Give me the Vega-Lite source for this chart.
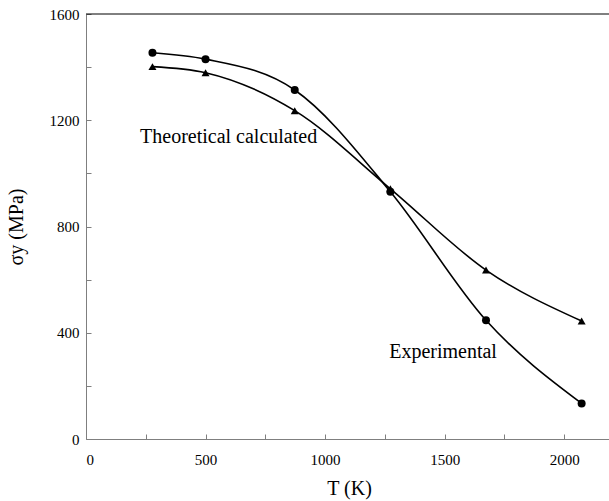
{
  "$schema": "https://vega.github.io/schema/vega-lite/v6.json",
  "width": 526,
  "height": 425,
  "autosize": {"type": "none"},
  "padding": {"left": 86, "top": 14, "right": 0, "bottom": 62},
  "background": "white",
  "config": {
    "view": {"stroke": null},
    "font": "Liberation Serif",
    "axis": {
      "labelFont": "Liberation Serif",
      "titleFont": "Liberation Serif",
      "labelFontSize": 15,
      "titleFontSize": 20,
      "titleFontWeight": "normal",
      "labelColor": "black",
      "titleColor": "black",
      "domainColor": "#7f7f7f",
      "tickColor": "#7f7f7f",
      "grid": false
    }
  },
  "datasets": {
    "pts": [
      {"T": 278, "sigma": 1454, "s": "Experimental"},
      {"T": 500, "sigma": 1430, "s": "Experimental"},
      {"T": 873, "sigma": 1314, "s": "Experimental"},
      {"T": 1273, "sigma": 931, "s": "Experimental"},
      {"T": 1673, "sigma": 447, "s": "Experimental"},
      {"T": 2073, "sigma": 134, "s": "Experimental"},
      {"T": 278, "sigma": 1402, "s": "Theoretical"},
      {"T": 500, "sigma": 1379, "s": "Theoretical"},
      {"T": 873, "sigma": 1236, "s": "Theoretical"},
      {"T": 1273, "sigma": 942, "s": "Theoretical"},
      {"T": 1673, "sigma": 636, "s": "Theoretical"},
      {"T": 2073, "sigma": 444, "s": "Theoretical"}
    ],
    "labels": [
      {"T": 226, "sigma": 1137, "text": "Theoretical calculated"},
      {"T": 1268, "sigma": 329, "text": "Experimental"}
    ]
  },
  "layer": [
    {
      "data": {"name": "pts"},
      "mark": {"type": "line", "interpolate": "monotone", "strokeWidth": 1.6, "color": "black"},
      "encoding": {
        "x": {
          "field": "T", "type": "quantitative",
          "scale": {"domain": [0, 2200], "nice": false},
          "axis": {
            "title": "T (K)",
            "format": "d",
            "values": [0, 250, 500, 750, 1000, 1250, 1500, 1750, 2000],
            "labelExpr": "datum.value % 500 == 0 ? datum.label : ''",
            "tickSize": -5,
            "labelPadding": 18,
            "titlePadding": 11
          }
        },
        "y": {
          "field": "sigma", "type": "quantitative",
          "scale": {"domain": [0, 1600], "nice": false},
          "axis": {
            "title": "σy (MPa)",
            "format": "d",
            "values": [0, 200, 400, 600, 800, 1000, 1200, 1400, 1600],
            "labelExpr": "datum.value % 400 == 0 ? datum.label : ''",
            "tickSize": -5,
            "labelPadding": 12,
            "titlePadding": 23
          }
        },
        "detail": {"field": "s"}
      }
    },
    {
      "data": {"name": "pts"},
      "mark": {"type": "point", "filled": true, "opacity": 1, "color": "black", "size": 64},
      "encoding": {
        "x": {"field": "T", "type": "quantitative"},
        "y": {"field": "sigma", "type": "quantitative"},
        "shape": {
          "field": "s", "type": "nominal",
          "scale": {"domain": ["Experimental", "Theoretical"], "range": ["circle", "triangle-up"]},
          "legend": null
        }
      }
    },
    {
      "data": {"name": "labels"},
      "mark": {"type": "text", "align": "left", "baseline": "middle", "fontSize": 20, "font": "Liberation Serif", "color": "black"},
      "encoding": {
        "x": {"field": "T", "type": "quantitative"},
        "y": {"field": "sigma", "type": "quantitative"},
        "text": {"field": "text"}
      }
    },
    {
      "data": {"values": [{}]},
      "mark": {"type": "rule", "color": "black", "strokeWidth": 1},
      "encoding": {
        "x": {"datum": 0, "type": "quantitative"},
        "x2": {"datum": 2200},
        "y": {"datum": 1600, "type": "quantitative"}
      }
    }
  ]
}
